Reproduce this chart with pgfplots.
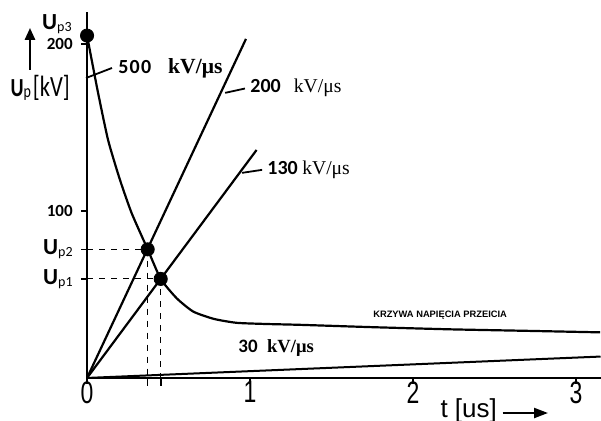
\documentclass[border=0pt]{standalone}
\usepackage{pgfplots}
\pgfplotsset{compat=1.18}
\usepackage{fontspec}
\setmainfont{Carlito}
\newfontfamily\arial{Liberation Sans}
\newfontfamily\tnr{Liberation Serif}
\usetikzlibrary{arrows.meta}
\newcommand{\Up}[1]{{\fontsize{11.5}{11.5}\selectfont\textbf{U}}\raisebox{-0.9pt}{\fontsize{7}{7}\selectfont p#1}}
\newcommand{\xl}[1]{\scalebox{1}[1.35]{\arial\fontsize{11.5}{11.5}\selectfont #1}}
\begin{document}
\begin{tikzpicture}
\begin{axis}[
  x=81.5pt, y=0.835pt,
  xmin=0, xmax=3.15, ymin=0, ymax=219,
  axis lines*=left,
  axis line style={line width=1.2pt},
  clip=false,
  tick align=outside,
  major tick length=3pt,
  tick style={black, line width=0.8pt},
  xtick={0,1,2,3},
  xticklabels={\xl{0},\xl{1},\xl{2},\xl{3}},
  extra x ticks={0.372,0.452},
  extra x tick labels={},
  extra x tick style={major tick length=4pt},
  xticklabel style={inner sep=0pt, yshift=1.5pt},
  ytick={59.3,77,100,200},
  yticklabels={\Up{1},\Up{2},{\fontsize{8.5}{8.5}\selectfont\textbf{100}},{\fontsize{8.5}{8.5}\selectfont\textbf{200}}},
  yticklabel style={inner sep=0pt, xshift=-4pt},
]
% helper corner coordinates for the bounding box
\coordinate (BL) at (axis cs:-0.534,-25.75);
\coordinate (TR) at (axis cs:3.153,226.3);

% dashed guides
\addplot[black, dashed, line width=0.55pt] coordinates {(0,77) (0.372,77) (0.372,0)};
\addplot[black, dashed, line width=0.55pt] coordinates {(0,59.3) (0.452,59.3) (0.452,0)};

% rate-of-rise lines
\addplot[black, line width=1.1pt] coordinates {(0,0) (0.975,203)};      % 200 kV/us
\addplot[black, line width=1.1pt] coordinates {(0,0) (1.04,136.5)};     % 130 kV/us
\addplot[black, line width=1.0pt] coordinates {(0,0) (3.15,12.8)};      % 30 kV/us
\addplot[black, line width=1.0pt] coordinates {(0,0) (0,205)};          % 500 kV/us (steep)

% chopping voltage curve
\addplot[black, line width=1.1pt, smooth, tension=0.35] coordinates {
 (0,205) (0.065,172) (0.129,142.5) (0.202,118.6) (0.274,98.6) (0.372,77)
 (0.452,59.3) (0.55,47.7) (0.652,39.7) (0.78,35.3) (0.918,33.0) (1.1,32.3) (1.307,31.8)
 (1.75,30.4) (2.23,29.1) (2.7,28.2) (3.147,27.3)};

% points Up3, Up2, Up1
\addplot[only marks, mark=*, mark size=3.3pt, black] coordinates {(0,205) (0.372,77) (0.452,59.3)};

% leader lines
\draw[line width=0.9pt] (axis cs:-0.006,179.6) -- (axis cs:0.153,185.6);
\draw[line width=0.9pt] (axis cs:0.847,170.7) -- (axis cs:0.969,173.3);
\draw[line width=0.9pt] (axis cs:0.951,122.8) -- (axis cs:1.074,124.6);

% annotations
\node[anchor=west, inner sep=0] at (axis cs:0.19,185.6)
  {\fontsize{10}{10}\selectfont\textbf{5\kern0.6pt0\kern0.6pt0}\hspace{0.85em}{\tnr\bfseries\fontsize{10.8}{10.8}\selectfont kV/μs}};
\node[anchor=west, inner sep=0] at (axis cs:1.0,173.7)
  {\fontsize{10}{10}\selectfont\textbf{200}\hspace{0.65em}{\tnr\fontsize{9.8}{9.8}\selectfont kV/μs}};
\node[anchor=west, inner sep=0] at (axis cs:1.104,124.6)
  {\fontsize{10}{10}\selectfont\textbf{130} {\tnr\fontsize{9.8}{9.8}\selectfont kV/μs}};
\node[anchor=west, inner sep=0] at (axis cs:0.926,18)
  {\fontsize{9.5}{9.5}\selectfont\textbf{30}\hspace{0.5em}{\tnr\bfseries\fontsize{9.3}{9.3}\selectfont kV/μs}};
\node[anchor=center, inner sep=0] at (axis cs:2.166,37.7)
  {\arial\bfseries\fontsize{4.66}{4.66}\selectfont KRZYWA NAPIĘCIA PRZEICIA};

% Up3 label
\node[anchor=east, inner sep=0] at (axis cs:-0.092,212) {\Up{3}};

% y axis label and arrow
\node[anchor=west, inner sep=0] at (axis cs:-0.472,173.7)
  {\scalebox{1}[1.3]{{\fontsize{10}{10}\selectfont\textbf{U}}\raisebox{-0.5pt}{\fontsize{7}{7}\selectfont p}\hspace{1pt}{\fontsize{11.3}{11.3}\selectfont [kV]}}};
\draw[line width=1.3pt, -{Triangle[length=6pt, width=5pt]}] (axis cs:-0.35,184.5) -- (axis cs:-0.35,209.6);

% x axis label and arrow
\node[anchor=base west, inner sep=0] at (axis cs:2.166,-23.9)
  {\arial\fontsize{13}{13}\selectfont t [us]};
\draw[line width=1.1pt, -{Triangle[length=7pt, width=5pt]}] (axis cs:2.55,-21) -- (axis cs:2.828,-21);
\end{axis}
\pgfresetboundingbox
\path[use as bounding box] (BL) rectangle (TR);
\end{tikzpicture}
\end{document}
